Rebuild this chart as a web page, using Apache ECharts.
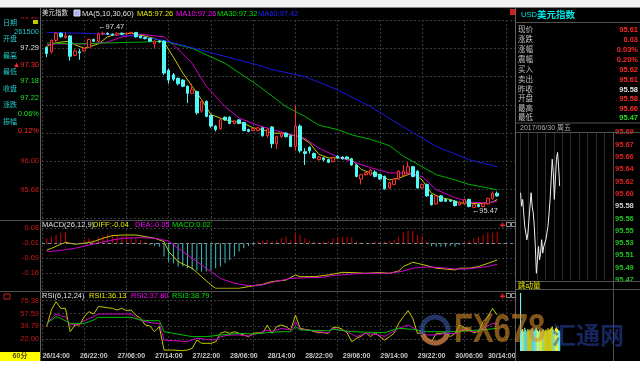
<!DOCTYPE html>
<html><head><meta charset="utf-8">
<script src="https://cdn.jsdelivr.net/npm/echarts@6/dist/echarts.min.js"></script>
<style>html,body{margin:0;padding:0;background:#000;}#c{width:640px;height:370px;}</style>
</head><body><div id="c"></div>
<script>
// ---------------- DATA ----------------
const DAY_START = 26, HOUR_START = 14, N_CANDLES = 97;
const TIMES = [];
for (let k = 0; k < N_CANDLES; k++) {
  const t = HOUR_START + k;
  TIMES.push((DAY_START + Math.floor(t / 24)) + '/' + String(t % 24).padStart(2, '0') + ':00');
}
const OPEN = [97.29,97.24,97.37,97.45,97.40,97.42,97.20,97.24,97.25,97.29,97.38,97.36,97.44,97.45,97.44,97.43,97.45,97.44,97.45,97.46,
97.42,97.40,97.39,97.33,97.36,97.36,97.03,96.98,96.94,96.92,96.85,96.77,96.79,96.57,96.68,96.52,96.40,96.37,96.50,96.50,
96.43,96.47,96.44,96.36,96.35,96.35,96.38,96.29,96.39,96.20,96.28,96.32,96.29,96.17,96.40,96.11,96.16,96.09,96.02,96.04,
96.02,96.00,96.06,96.05,96.05,96.03,95.96,95.80,95.85,95.85,95.88,95.85,95.83,95.70,95.74,95.80,95.84,95.87,95.94,95.89,
95.70,95.74,95.62,95.52,95.61,95.57,95.56,95.55,95.51,95.52,95.57,95.48,95.51,95.49,95.52,95.58,95.64];
const HIGH = [97.30,97.38,97.46,97.46,97.46,97.43,97.27,97.27,97.29,97.39,97.39,97.46,97.47,97.46,97.45,97.46,97.46,97.46,97.46,97.46,
97.43,97.41,97.39,97.37,97.37,97.37,97.05,97.00,96.95,96.93,96.86,96.88,96.80,96.69,96.69,96.53,96.41,96.48,96.51,96.51,
96.47,96.48,96.45,96.37,96.38,96.39,96.39,96.37,96.40,96.29,96.33,96.33,96.30,96.63,96.42,96.15,96.17,96.10,96.06,96.05,
96.03,96.05,96.07,96.06,96.06,96.04,95.97,95.86,95.88,95.92,95.90,95.86,95.84,95.77,95.81,95.90,95.96,95.99,95.95,95.90,
95.75,95.75,95.63,95.62,95.62,95.58,95.57,95.56,95.55,95.58,95.58,95.52,95.52,95.53,95.59,95.66,95.66];
const LOW = [97.18,97.22,97.35,97.40,97.39,97.14,97.19,97.15,97.24,97.28,97.35,97.35,97.43,97.43,97.42,97.42,97.43,97.43,97.44,97.40,
97.39,97.38,97.35,97.28,97.34,96.98,96.88,96.91,96.86,96.84,96.66,96.76,96.53,96.55,96.50,96.38,96.34,96.36,96.46,96.42,
96.42,96.42,96.34,96.33,96.34,96.34,96.28,96.27,96.15,96.14,96.27,96.27,96.16,96.12,96.10,95.96,96.09,96.03,96.01,96.00,
95.98,95.99,96.03,96.02,96.02,95.95,95.82,95.74,95.84,95.84,95.82,95.79,95.68,95.69,95.73,95.79,95.83,95.86,95.82,95.69,
95.69,95.60,95.50,95.51,95.54,95.54,95.54,95.49,95.50,95.51,95.48,95.47,95.48,95.48,95.51,95.57,95.60];
const CLOSE = [97.22,97.37,97.45,97.41,97.42,97.19,97.25,97.23,97.28,97.38,97.36,97.44,97.45,97.44,97.43,97.45,97.44,97.45,97.46,97.41,
97.40,97.39,97.36,97.36,97.35,97.00,96.92,96.93,96.88,96.85,96.77,96.81,96.55,96.68,96.51,96.40,96.36,96.47,96.47,96.43,
96.46,96.43,96.35,96.34,96.37,96.38,96.29,96.36,96.20,96.28,96.32,96.28,96.17,96.40,96.12,96.09,96.12,96.04,96.05,96.02,
95.99,96.04,96.04,96.03,96.03,95.96,95.83,95.85,95.87,95.90,95.83,95.80,95.69,95.76,95.80,95.89,95.89,95.94,95.83,95.70,
95.74,95.61,95.51,95.61,95.55,95.55,95.55,95.50,95.54,95.57,95.49,95.51,95.49,95.52,95.58,95.64,95.61];
// moving averages: [candle index, value]
const MA5 = [[0,97.30],[1,97.33],[3,97.35],[5,97.36],[6,97.32],[8,97.28],[11,97.33],[13,97.41],[15,97.44],[18,97.45],[20,97.43],[23,97.39],[25,97.35],[27,97.18],[29,97.00],[31,96.85],[33,96.70],[35,96.53],[38,96.47],[40,96.45],[42,96.43],[44,96.38],[46,96.36],[48,96.32],[50,96.32],[52,96.30],[54,96.28],[56,96.21],[58,96.08],[60,96.04],[63,96.04],[65,96.02],[67,95.91],[69,95.87],[71,95.85],[73,95.79],[75,95.81],[78,95.87],[80,95.79],[82,95.64],[84,95.59],[86,95.57],[88,95.53],[90,95.53],[92,95.52],[95,95.54],[96,95.57]];
const MA10 = [[0,97.32],[2,97.33],[6,97.33],[9,97.33],[13,97.35],[16,97.41],[20,97.44],[23,97.42],[25,97.41],[27,97.32],[31,97.11],[34,96.85],[38,96.62],[41,96.49],[45,96.41],[48,96.36],[51,96.32],[55,96.26],[58,96.15],[62,96.05],[65,96.00],[69,95.93],[73,95.87],[76,95.87],[80,95.83],[83,95.68],[87,95.59],[90,95.54],[94,95.53],[96,95.55]];
const MA30 = [[0,97.34],[6,97.33],[13,97.34],[20,97.35],[25,97.36],[31,97.28],[38,97.11],[45,96.86],[48,96.74],[50,96.66],[51,96.62],[55,96.51],[58,96.41],[62,96.36],[65,96.30],[69,96.25],[73,96.18],[76,96.06],[80,95.94],[83,95.85],[87,95.79],[90,95.74],[94,95.70],[96,95.68]];
const MA60 = [[0,97.46],[8,97.45],[16,97.43],[20,97.41],[25,97.37],[30,97.30],[35,97.23],[40,97.16],[45,97.09],[48,97.04],[55,96.96],[62,96.81],[69,96.62],[76,96.39],[83,96.17],[90,96.02],[96,95.94]];
const MA_TITLE = {MA5:'97.26', MA10:'97.26', MA30:'97.32', MA60:'97.42'};
// MACD
const DIFF = [[0,-0.036],[1,-0.027],[3,-0.005],[4,0.005],[6,-0.005],[8,0],[10,0.009],[12,0.027],[14,0.041],[16,0.044],[19,0.044],[21,0.036],[23,0.027],[25,0.009],[26,-0.044],[28,-0.098],[31,-0.133],[33,-0.178],[35,-0.222],[36,-0.24],[38,-0.24],[41,-0.24],[43,-0.231],[46,-0.219],[48,-0.204],[51,-0.196],[53,-0.169],[54,-0.178],[57,-0.178],[60,-0.169],[63,-0.155],[65,-0.156],[68,-0.16],[71,-0.156],[73,-0.16],[75,-0.148],[76,-0.124],[78,-0.101],[79,-0.107],[81,-0.119],[83,-0.133],[85,-0.137],[87,-0.142],[88,-0.133],[90,-0.133],[92,-0.124],[94,-0.107],[96,-0.089]];
const DEA = [[0,-0.044],[2,-0.041],[6,-0.027],[9,-0.009],[13,0.012],[16,0.027],[20,0.030],[23,0.027],[26,0.012],[28,-0.027],[31,-0.08],[34,-0.133],[37,-0.187],[40,-0.213],[43,-0.226],[46,-0.222],[48,-0.208],[52,-0.187],[56,-0.183],[59,-0.181],[61,-0.172],[65,-0.164],[68,-0.16],[73,-0.16],[76,-0.148],[78,-0.133],[81,-0.126],[84,-0.13],[87,-0.137],[89,-0.137],[91,-0.133],[94,-0.124],[96,-0.112]];
const MACD_HIST = [0.027,0.035,0.044,0.057,0.057,0.004,0.002,0.002,0.018,0.027,0.018,0.035,0.040,0.048,0.044,0.040,0.035,0.040,0.035,0.027,
0.018,0.009,-0.009,-0.014,-0.018,-0.071,-0.098,-0.107,-0.124,-0.124,-0.133,-0.142,-0.146,-0.151,-0.151,-0.142,-0.133,-0.124,-0.107,-0.089,
-0.071,-0.044,-0.027,-0.014,-0.009,0.009,0.014,0.018,0.009,0.014,0.027,0.035,0.018,0.057,0.044,0.027,0.014,0.009,0.004,0.009,
0.009,0.027,0.031,0.035,0.035,0.031,0.009,0.004,0.004,0.004,0.009,0.004,0.009,0.014,0.018,0.035,0.057,0.067,0.067,0.044,
0.040,0.009,-0.014,-0.018,-0.018,-0.018,-0.014,-0.018,-0.009,0.009,0.014,0.027,0.035,0.044,0.057,0.057,0.062];
const MACD_TICK_LABELS = ['', '-0.16', '-0.09', '-0.01', '0.08'];
const MACD_TITLE = {DIFF:'-0.04', DEA:'-0.05', MACD:'0.02'};
// RSI
const RSI1 = [39.2,62.4,74.0,64.7,64.7,32.2,41.5,41.5,53.1,60.1,56.8,67.1,66.6,65.5,64.7,62.4,64.7,61.5,62.4,55.0,
50.8,41.5,40.1,32.2,39.2,6.7,6.5,6.7,6.2,5.8,6.7,9.0,20.6,16.0,16.0,16.0,18.0,29.9,32.2,29.9,
32.2,29.9,27.6,25.3,29.9,30.8,29.9,41.5,29.9,39.2,41.5,39.2,34.5,55.4,36.9,35.5,34.5,32.2,30.8,30.8,
29.9,38.3,38.3,35.5,30.8,18.3,22.9,26.0,30.8,25.3,30.8,25.3,20.6,25.0,29.9,43.8,53.1,61.5,50.8,29.9,
30.8,22.9,18.3,29.9,29.9,30.8,25.3,29.9,41.5,38.0,34.5,30.8,32.2,46.2,53.1,64.7,55.4];
const RSI2 = [[0,41.5],[1,50.8],[2,56.8],[3,54.0],[4,53.1],[5,41.5],[7,42.9],[8,47.5],[10,53.1],[11,56.8],[14,56.8],[18,56.8],[20,47.5],[23,43.8],[24,43.8],[25,20.6],[27,19.7],[30,18.3],[31,20.6],[32,22.9],[34,21.5],[36,20.6],[37,25.3],[39,27.6],[41,27.6],[43,26.2],[45,29.9],[47,34.5],[48,32.2],[50,36.9],[52,34.5],[53,46.2],[54,35.5],[57,33.6],[58,32.2],[60,30.8],[61,36.9],[64,32.2],[66,25.3],[68,29.9],[71,27.6],[72,25.3],[75,36.9],[77,41.5],[79,34.5],[81,27.6],[83,27.6],[85,29.9],[87,29.9],[89,35.5],[91,32.2],[93,36.9],[95,43.8],[96,42.9]];
const RSI3 = [[0,43.8],[2,53.1],[3,50.8],[5,43.8],[8,43.8],[10,48.5],[11,52.2],[18,52.2],[20,48.5],[22,47.5],[24,47.5],[25,32.2],[31,25.3],[34,25.3],[37,27.6],[41,29.9],[44,29.0],[47,30.8],[50,32.2],[52,32.2],[53,39.2],[54,34.5],[60,33.6],[61,35.5],[65,32.2],[72,30.8],[75,36.9],[78,35.5],[81,32.2],[86,32.2],[90,33.6],[94,35.5],[96,36.9]];
const RSI_TICK_LABELS = ['22.00', '39.79', '57.59', '75.38'];
const RSI_TITLE = {RSI1:'36.13', RSI2:'37.80', RSI3:'38.79'};
// left info panel
const INFO = [['日期','261500'],['开盘','97.29'],['最高','\u25B297.30'],['最低','97.18'],['收盘','97.22'],['涨跌','0.06%'],['振幅','0.12%']];
// right quote panel
const QUOTE_NAME = 'USD', QUOTE_TITLE = '美元指数', QUOTE_DATE = '2017/06/30 周五';
const QUOTE_LABELS = ['现价','涨跌','涨幅','震幅','买入','卖出','昨收','开盘','最高','最低'];
const QUOTE_VALUES = ['95.61','0.03','0.03%','0.20%','95.62','95.61','95.58','95.58','95.66','95.47'];
const PREV_CLOSE = 95.58;
// intraday tick chart
const MINI_PRICE = [95.60,95.58,95.59,95.57,95.55,95.54,95.53,95.54,95.56,95.58,95.60,95.58,95.57,95.55,95.52,95.48,95.50,95.52,95.50,95.51,
95.53,95.51,95.52,95.52,95.53,95.54,95.55,95.57,95.59,95.62,95.65,95.63,95.59,95.62,95.65,95.66,95.64,95.61];
const MINI_VOL = [100,36,38,34,40,36,33,38,35,37,34,39,36,35,38,40,36,34,37,33,35,38,36,34,37,35,39,36,38,40,42,37,35,39,41,38,36,34];
const MINI_SLOTS = 88;
const MINI_TICKS = ['95.47','95.49','95.51','95.53','95.55','95.56','95.58','95.60','95.62','95.64','95.66','95.67','95.69'];
const PERIOD_LABEL = '60分', VOL_LABEL = '跳动量';

// ---------------- BUILD ----------------
const AX = [''].concat(TIMES, ['', '', '', '']);
const CANDLES = OPEN.map((o, i) => [i + 1, o, CLOSE[i], LOW[i], HIGH[i]]);
const shift = arr => arr.map(d => [d[0] + 1, d[1]]);
const FONT = "'Liberation Sans','Noto Sans CJK SC',sans-serif";
const GRID_C = '#3a3a3a';
const G = [];
function T(x, y, s, fill, size, align, weight, z, extra) {
  G.push(Object.assign({type:'text', x:x, y:y, z:z||100, silent:true,
    style:{text:s, fill:fill, font:(weight||'normal') + ' ' + size + 'px ' + FONT,
      textAlign:align||'left', textVerticalAlign:'middle', align:align||'left', verticalAlign:'middle'}}, extra || {}));
}
function R(x, y, w, h, fill, z, stroke) {
  G.push({type:'rect', shape:{x:x, y:y, width:w, height:h}, z:z||90, silent:true,
    style:{fill:fill, stroke:stroke||null, lineWidth:1}});
}
function L(x1, y1, x2, y2, stroke, z) {
  G.push({type:'line', shape:{x1:x1, y1:y1, x2:x2, y2:y2}, z:z||95, silent:true, style:{stroke:stroke, lineWidth:1}});
}
const CYAN = '#20c8c8', RED = '#ff2828', GREEN = '#20e020', WHITE = '#e0e0e0';
const C_MA5 = '#c8c800', C_MA10 = '#d000d0', C_MA30 = '#00b000', C_MA60 = '#1818e0';

// frame
R(0, 0, 640, 7.5, '#f2f2f2', 200);
L(0, 7.5, 640, 7.5, '#808080', 201);
R(0, 361, 640, 9, '#ffffff', 200);
R(0, 19, 40, 121, '#000', 90);
L(40.5, 8, 40.5, 361, '#606060');
L(515.5, 8, 515.5, 361, '#606060');
L(0, 220.5, 515, 220.5, '#505050');
L(0, 291.5, 515, 291.5, '#505050');
// left info
INFO.forEach((r, k) => {
  const y0 = 23 + k * 16.5;
  T(3, y0, r[0], CYAN, 7);
  const v = r[1];
  let col = WHITE;
  if (k === 0) col = CYAN;
  else if (k === 2 || k === 6) col = RED;
  else if (k >= 3) col = GREEN;
  T(39, y0 + 8.5, v, col, 7.5, 'right');
});
R(33, 20, 5, 4, '#c8c800', 101);
// main title
T(42, 13.5, '美元指数', WHITE, 6.5);
R(74, 10, 6, 6, '#b0b0ff', 101, '#e0e0e0');
T(82, 13.5, 'MA(5,10,30,60)', WHITE, 7.5);
T(137, 13.5, 'MA5:' + MA_TITLE.MA5, '#e8e800', 7.5);
T(176, 13.5, 'MA10:' + MA_TITLE.MA10, '#ff00ff', 7.5);
T(217, 13.5, 'MA30:' + MA_TITLE.MA30, '#00e000', 7.5);
T(258, 13.5, 'MA60:' + MA_TITLE.MA60, '#2020ff', 7.5);
R(510, 9, 5, 6, '#d02020', 101);
// MACD title
T(42, 225, 'MACD(26,12,9)', WHITE, 7.5);
T(93, 225, 'DIFF:' + MACD_TITLE.DIFF, '#e8e800', 7.5);
T(135, 225, 'DEA:' + MACD_TITLE.DEA, '#ff00ff', 7.5);
T(172, 225, 'MACD:' + MACD_TITLE.MACD, '#00e000', 7.5);
// RSI title
T(42, 296, 'RSI(6,12,24)', WHITE, 7.5);
T(89, 296, 'RSI1:' + RSI_TITLE.RSI1, '#e8e800', 7.5);
T(131, 296, 'RSI2:' + RSI_TITLE.RSI2, '#ff00ff', 7.5);
T(172, 296, 'RSI3:' + RSI_TITLE.RSI3, '#00e000', 7.5);
[225, 296].forEach(y => {
  R(500, y - 0.5, 5, 1.5, '#e02020', 101); R(501.8, y - 2.5, 1.5, 5, '#e02020', 101);
  R(506.5, y - 2.5, 4, 4, '#000', 101, '#909090'); R(511.5, y - 2.5, 4, 4, '#000', 101, '#909090');
});
R(4, 294, 6, 5, '#000', 101, '#d02020');
// bottom cell
R(0, 352, 40, 9, '#ffff00', 150);
T(20, 356.5, PERIOD_LABEL, '#505000', 7, 'center', 'bold', 151);
// right panel
T(521, 15, QUOTE_NAME, '#00e8e8', 7.5);
T(537, 15, QUOTE_TITLE, '#00e8e8', 9.5, 'left', 'bold');
L(516, 22.5, 640, 22.5, '#505050');
const QY = [29.5, 39.5, 49.5, 60, 70, 79.5, 89.5, 99, 108.5, 117.5];
QUOTE_LABELS.forEach((lab, k) => {
  T(518, QY[k], lab, '#c0c0c0', 7.5);
  const v = parseFloat(QUOTE_VALUES[k]);
  let col = RED;
  if (lab === '昨收') col = WHITE;
  else if (QUOTE_VALUES[k].indexOf('%') < 0 && k !== 1 && v < PREV_CLOSE) col = GREEN;
  T(638, QY[k], QUOTE_VALUES[k], col, 7.5, 'right', 'bold');
});
L(516, 123, 640, 123, '#505050');
T(520, 128, QUOTE_DATE, '#b0b0b0', 7);
L(516, 132.5, 640, 132.5, '#505050');
L(516, 281.5, 640, 281.5, '#505050');
T(518, 285.5, VOL_LABEL, '#e8e800', 7.5);
L(516, 289.5, 640, 289.5, '#505050');
L(613.5, 132.5, 613.5, 361, '#505050');
// watermark
G.push({type:'circle', shape:{cx:435, cy:330, r:13}, z:120, silent:true, style:{fill:'none', stroke:'rgba(60,90,170,0.6)', lineWidth:5}});
G.push({type:'arc', shape:{cx:435, cy:330, r:13, startAngle:0.3, endAngle:2.8}, z:121, silent:true, style:{fill:'none', stroke:'rgba(220,120,30,0.7)', lineWidth:5}});
T(454, 331, 'FX678', 'rgba(215,140,40,0.6)', 31, 'left', 'bold', 120, {scaleY:1.3});
T(552, 337, '汇通网', 'rgba(40,70,170,0.55)', 24, 'left', 'bold', 120);

function catAxis(gi, withLabels) {
  return {type:'category', gridIndex:gi, data:AX, boundaryGap:false,
    axisLine:{show:false}, axisTick:{show:false},
    axisLabel: withLabels ? {
      show:true, margin:1, color:'#c8c8c8', fontSize:7, fontWeight:'bold', fontFamily:FONT,
      interval:(i) => i >= 1 && i <= N_CANDLES && (i - 1) % 8 === 0,
      formatter:(v, i) => (i === N_CANDLES ? '{b|' + v + '}' : '{a|' + v + '}'),
      rich:{a:{fontSize:7, fontWeight:'bold', color:'#c8c8c8', fontFamily:FONT, padding:[0,0,0,19]},
            b:{fontSize:7, fontWeight:'bold', color:'#c8c8c8', fontFamily:FONT, padding:[0,0,0,9]}}
    } : {show:false},
    splitLine:{show:true, interval:(i) => i % 9 === 0, lineStyle:{color:GRID_C, type:[2,2], width:1}}};
}
const ylab = {color:'#c81818', fontSize:7.5, fontFamily:FONT, margin:3};
const RSI_INT = (parseFloat(RSI_TICK_LABELS[3]) - parseFloat(RSI_TICK_LABELS[0])) / 3;
const RSI_MIN = parseFloat(RSI_TICK_LABELS[0]) - RSI_INT, RSI_MAX = parseFloat(RSI_TICK_LABELS[3]) + RSI_INT;
const M_MIN = parseFloat(MINI_TICKS[0]), M_MAX = parseFloat(MINI_TICKS[MINI_TICKS.length - 1]);
const M_INT = (M_MAX - M_MIN) / (MINI_TICKS.length - 1);

function lineS(data, color, gi) {
  return {type:'line', xAxisIndex:gi, yAxisIndex:gi, data:shift(data), showSymbol:false, symbol:'none',
    silent:true, z:3, lineStyle:{color:color, width:1}, itemStyle:{color:color}};
}
const option = {
  backgroundColor:'#000', animation:false,
  grid:[
    {left:42, top:20, width:474, height:198},
    {left:42, top:221, width:474, height:67.3},
    {left:42, top:287.9, width:474, height:63.9},
    {left:520, top:132.3, width:93, height:147.7},
    {left:520, top:290, width:93, height:61}
  ],
  xAxis:[catAxis(0,false), catAxis(1,false), catAxis(2,true),
    {type:'category', gridIndex:3, data:Array.from({length:MINI_SLOTS}, (_, i) => i), boundaryGap:true,
      axisLine:{show:false}, axisTick:{show:false}, axisLabel:{show:false},
      splitLine:{show:true, interval:(i) => i % 8 === 0, lineStyle:{color:'#2c2c2c', width:1}}},
    {type:'category', gridIndex:4, data:Array.from({length:MINI_SLOTS}, (_, i) => i), boundaryGap:true,
      axisLine:{show:false}, axisTick:{show:false}, axisLabel:{show:false}, splitLine:{show:false}}],
  yAxis:[
    {type:'value', gridIndex:0, min:95.36, max:97.60, interval:0.32, axisLine:{show:false}, axisTick:{show:false},
      axisLabel:Object.assign({showMinLabel:false, formatter:(v) => v.toFixed(2)}, ylab),
      splitLine:{show:true, lineStyle:{color:GRID_C, type:[2,2]}}},
    {type:'value', gridIndex:1, min:-0.24, max:0.119, interval:0.08, axisLine:{show:false}, axisTick:{show:false},
      axisLabel:Object.assign({showMinLabel:false, showMaxLabel:false,
        formatter:(v) => MACD_TICK_LABELS[Math.round((v + 0.24) / 0.08)] || ''}, ylab),
      splitLine:{show:true, showMinLine:false, showMaxLine:false, lineStyle:{color:GRID_C, type:[2,2]}}},
    {type:'value', gridIndex:2, min:RSI_MIN, max:RSI_MAX, interval:RSI_INT, axisLine:{show:false}, axisTick:{show:false},
      axisLabel:Object.assign({showMinLabel:false, showMaxLabel:false,
        formatter:(v) => RSI_TICK_LABELS[Math.round((v - RSI_MIN) / RSI_INT) - 1] || ''}, ylab),
      splitLine:{show:true, showMinLine:false, showMaxLine:false, lineStyle:{color:GRID_C, type:[2,2]}}},
    {type:'value', gridIndex:3, position:'right', min:M_MIN, max:M_MAX, interval:M_INT,
      axisLine:{show:false}, axisTick:{show:false},
      axisLabel:{margin:2, fontSize:7.5, fontFamily:FONT, fontWeight:'bold',
        formatter:(v) => MINI_TICKS[Math.round((v - M_MIN) / M_INT)] || '',
        color:(v) => { const k = Math.round((Number(v) - M_MIN) / M_INT); const p = parseFloat(MINI_TICKS[k]);
          return p > PREV_CLOSE ? '#e02020' : (p === PREV_CLOSE ? '#d0d0d0' : '#20c020'); }},
      splitLine:{show:false}},
    {type:'value', gridIndex:4, min:0, max:105, show:false}
  ],
  series:[
    {type:'candlestick', xAxisIndex:0, yAxisIndex:0, barWidth:3,
      dimensions:['t','open','close','lowest','highest'],
      encode:{x:'t', y:['open','close','lowest','highest']},
      data:CANDLES, z:4,
      itemStyle:{color:'#000', color0:'#50f8f8', borderColor:'#ff3030', borderColor0:'#50f8f8', borderWidth:1},
      markPoint:{symbol:'circle', symbolSize:0.1, itemStyle:{color:'rgba(0,0,0,0)'}, silent:true,
        label:{show:true, color:'#d8d8d8', fontSize:7.5, fontFamily:FONT, align:'left', verticalAlign:'middle',
          formatter:(p) => '\u2190' + Number(p.value).toFixed(2)},
        data:[{type:'max', valueDim:'highest', label:{offset:[-5,-5]}},
              {type:'min', valueDim:'lowest', label:{offset:[-2,2.5]}}]}},
    lineS(MA5, C_MA5, 0), lineS(MA10, C_MA10, 0), lineS(MA30, C_MA30, 0), lineS(MA60, C_MA60, 0),
    {type:'bar', xAxisIndex:1, yAxisIndex:1, barWidth:1, silent:true,
      data:MACD_HIST.map((v, i) => [i + 1, v]),
      itemStyle:{color:(p) => (p.value[1] >= 0 ? '#d00000' : '#3cc0c8')},
      markLine:{symbol:'none', silent:true, label:{show:false}, lineStyle:{color:'#8a8a8a', type:[3,3], width:1}, data:[{yAxis:0}]}},
    lineS(DIFF, C_MA5, 1), lineS(DEA, C_MA10, 1),
    lineS(RSI1.map((v, i) => [i, v]), C_MA5, 2), lineS(RSI2, C_MA10, 2), lineS(RSI3, '#00c000', 2),
    {type:'line', xAxisIndex:3, yAxisIndex:3, data:MINI_PRICE, showSymbol:false, symbol:'none', silent:true,
      lineStyle:{color:'#f0f0f0', width:1}},
    {type:'bar', xAxisIndex:4, yAxisIndex:4, data:MINI_VOL, barWidth:1.2, silent:true,
      itemStyle:{color:(p) => (p.dataIndex === 0 || MINI_PRICE[p.dataIndex] < MINI_PRICE[p.dataIndex - 1] ? '#70f0f0' : '#f0f020')}}
  ],
  graphic:{elements:G}
};
const chart = echarts.init(document.getElementById('c'));
chart.setOption(option);
</script></body></html>
